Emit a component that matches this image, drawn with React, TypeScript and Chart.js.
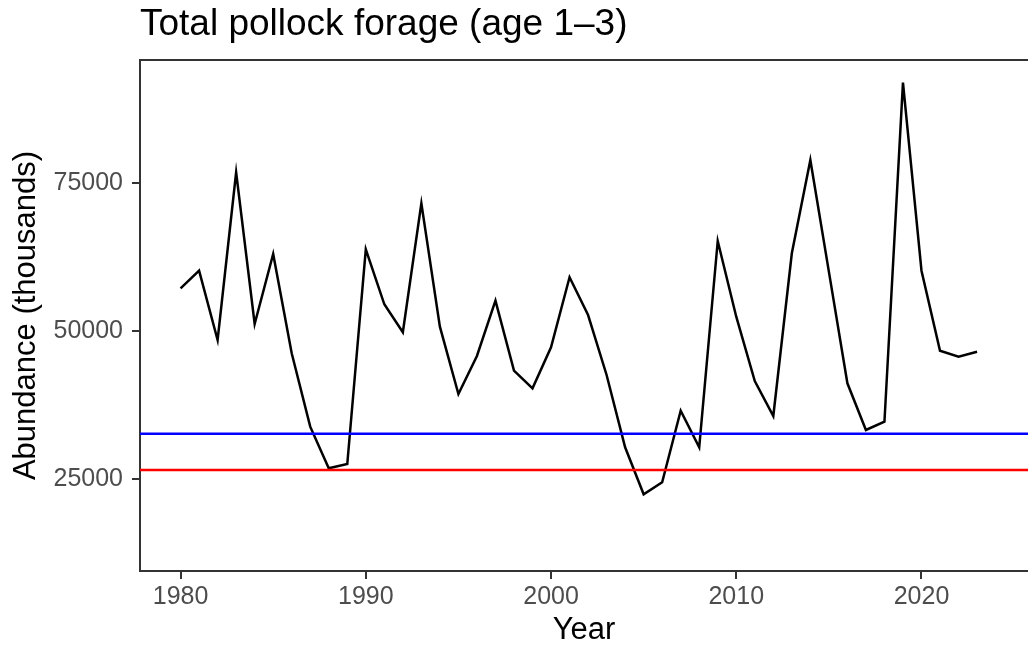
import React, { useEffect, useRef } from "react";
import { Chart, registerables } from "chart.js";

Chart.register(...registerables);

// ---- Data ----
const years = [
  1980, 1981, 1982, 1983, 1984, 1985, 1986, 1987, 1988, 1989,
  1990, 1991, 1992, 1993, 1994, 1995, 1996, 1997, 1998, 1999,
  2000, 2001, 2002, 2003, 2004, 2005, 2006, 2007, 2008, 2009,
  2010, 2011, 2012, 2013, 2014, 2015, 2016, 2017, 2018, 2019,
  2020, 2021, 2022, 2023,
];
const abundance = [
  57180, 60150, 48460, 76750, 51160, 62970, 46210, 33830, 26800, 27530,
  63760, 54480, 49760, 71520, 50700, 39340, 45760, 55090, 43280, 40300,
  47220, 59040, 52670, 42550, 30350, 22420, 24440, 36530, 30350, 65160,
  52390, 41540, 35630, 63090, 78830, 60000, 41150, 33270, 34670, 91880,
  60150, 46650, 45640, 46480,
];
const blueLevel = 32650;
const redLevel = 26500;

const xTickValues = [1980, 1990, 2000, 2010, 2020];
const yTickValues = [25000, 50000, 75000];

const titleText = "Total pollock forage (age 1–3)";
const xTitleText = "Year";
const yTitleText = "Abundance (thousands)";

const X_MIN = 1977.81;
const X_MAX = 2025.75;
const Y_MIN = 9475;
const Y_MAX = 95705;

const FONT = '"Liberation Sans", Arial, Helvetica, sans-serif';

const titlePlugin = {
  id: "ggTitle",
  afterDraw(chart: any) {
    const { ctx, chartArea } = chart;
    ctx.save();
    ctx.font = `37px ${FONT}`;
    ctx.fillStyle = "#000000";
    ctx.textAlign = "left";
    ctx.textBaseline = "alphabetic";
    ctx.fillText(titleText, chartArea.left, 35);
    // top panel border
    ctx.strokeStyle = "#333333";
    ctx.lineWidth = 2;
    ctx.beginPath();
    ctx.moveTo(chartArea.left - 1, chartArea.top);
    ctx.lineTo(chartArea.right, chartArea.top);
    ctx.stroke();
    ctx.restore();
  },
};

export default function App() {
  const canvasRef = useRef<HTMLCanvasElement | null>(null);

  useEffect(() => {
    if (!canvasRef.current) return;
    Chart.defaults.font.family = FONT;
    const lineData = years.map((y, i) => ({ x: y, y: abundance[i] }));
    const chart = new Chart(canvasRef.current, {
      type: "line",
      data: {
        datasets: [
          {
            data: [
              { x: X_MIN, y: blueLevel },
              { x: X_MAX, y: blueLevel },
            ],
            borderColor: "#0000FF",
            borderWidth: 2.5,
            pointRadius: 0,
          },
          {
            data: [
              { x: X_MIN, y: redLevel },
              { x: X_MAX, y: redLevel },
            ],
            borderColor: "#FF0000",
            borderWidth: 2.5,
            pointRadius: 0,
          },
          {
            data: lineData,
            borderColor: "#000000",
            borderWidth: 2.5,
            pointRadius: 0,
            tension: 0,
          },
        ],
      },
      options: {
        animation: false,
        responsive: false,
        layout: { padding: { top: 60, left: 0, right: 0, bottom: 0 } },
        plugins: {
          legend: { display: false },
          tooltip: { enabled: false },
          title: { display: false },
        },
        scales: {
          x: {
            type: "linear",
            min: X_MIN,
            max: X_MAX,
            afterBuildTicks: (s: any) => {
              s.ticks = xTickValues.map((v) => ({ value: v }));
            },
            afterFit: (s: any) => {
              s.height = 76;
            },
            ticks: {
              color: "#4D4D4D",
              font: { size: 25 },
              padding: 3,
              autoSkip: false,
              maxRotation: 0,
              callback: (v: any) => String(v),
            },
            grid: {
              drawOnChartArea: false,
              drawTicks: true,
              tickLength: 8,
              color: "#333333",
              lineWidth: 2,
            },
            border: { display: true, color: "#333333", width: 2 },
            title: {
              display: true,
              text: xTitleText,
              color: "#000000",
              font: { size: 31 },
              padding: { top: 0, bottom: -2 },
            },
          },
          y: {
            type: "linear",
            min: Y_MIN,
            max: Y_MAX,
            afterBuildTicks: (s: any) => {
              s.ticks = yTickValues.map((v) => ({ value: v }));
            },
            afterFit: (s: any) => {
              s.width = 140;
            },
            ticks: {
              color: "#4D4D4D",
              font: { size: 25 },
              padding: 9,
              autoSkip: false,
              callback: (v: any) => String(v),
            },
            grid: {
              drawOnChartArea: false,
              drawTicks: true,
              tickLength: 8,
              color: "#333333",
              lineWidth: 2,
            },
            border: { display: true, color: "#333333", width: 2 },
            title: {
              display: true,
              text: yTitleText,
              color: "#000000",
              font: { size: 31 },
              padding: { top: 8, bottom: 0 },
            },
          },
        },
      },
      plugins: [titlePlugin],
    });
    return () => chart.destroy();
  }, []);

  return (
    <div style={{ position: "absolute", left: 0, top: 0, width: 1028, height: 647, background: "#ffffff" }}>
      <canvas ref={canvasRef} width={1028} height={647} />
    </div>
  );
}
